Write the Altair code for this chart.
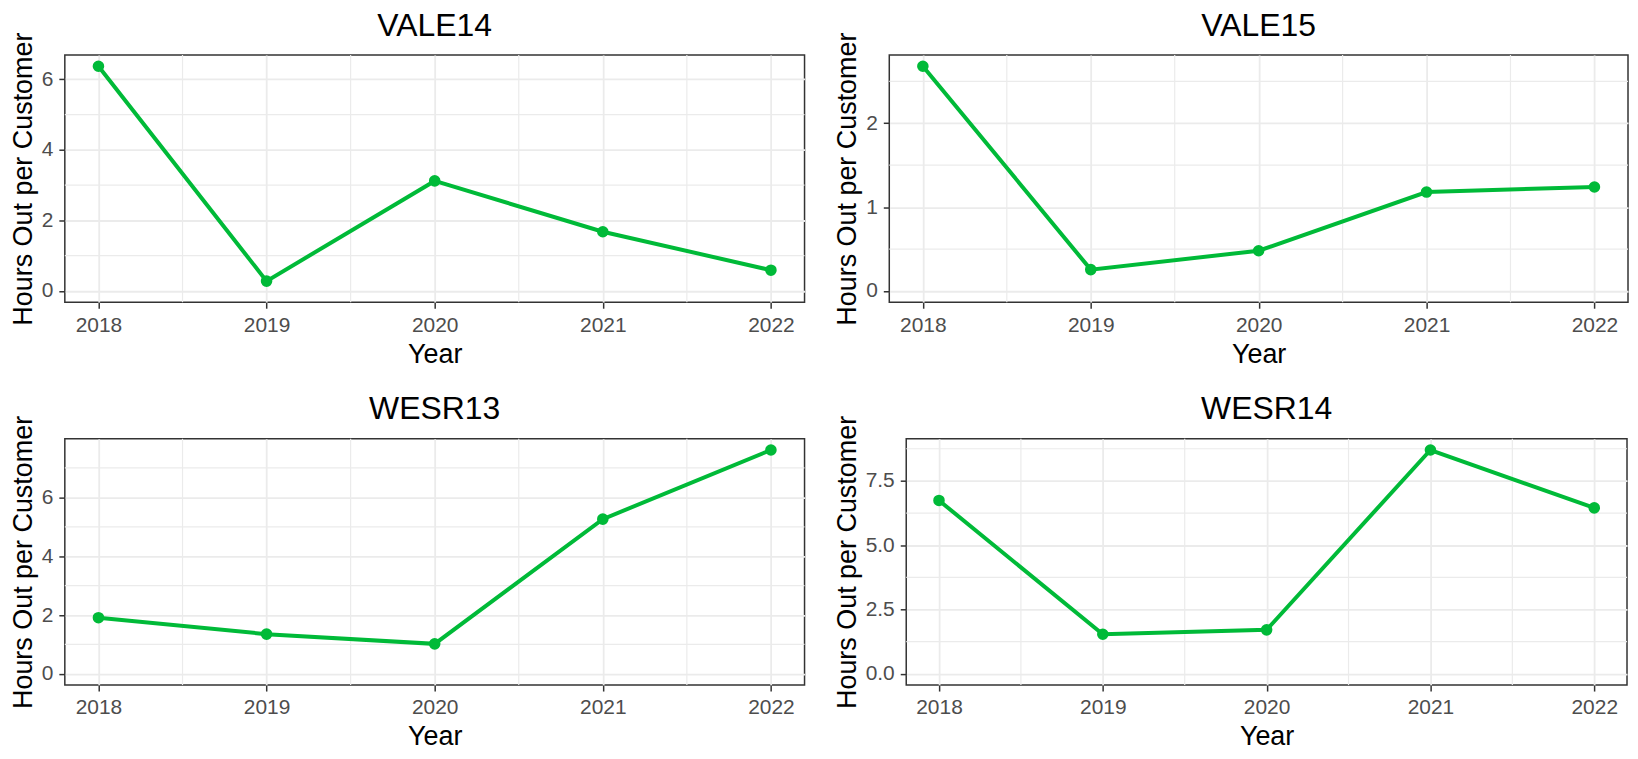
import altair as alt
import pandas as pd

# ---- data ----
years = [2018, 2019, 2020, 2021, 2022]
x_minor = [2018.5, 2019.5, 2020.5, 2021.5]

feeders = ["VALE14", "VALE15", "WESR13", "WESR14"]
vale14 = [6.37, 0.28, 3.12, 1.68, 0.59]
vale15 = [2.68, 0.255, 0.48, 1.18, 1.24]
wesr13 = [1.91, 1.35, 1.02, 5.26, 7.61]
wesr14 = [6.74, 1.54, 1.71, 8.70, 6.45]

vale14_ticks = [0, 2, 4, 6]
vale15_ticks = [0, 1, 2]
wesr13_ticks = [0, 2, 4, 6, 8]
wesr14_ticks = [0, 2.5, 5, 7.5]

vale14_minor = [1, 3, 5]
vale15_minor = [0.5, 1.5, 2.5]
wesr13_minor = [1, 3, 5, 7]
wesr14_minor = [1.25, 3.75, 6.25, 8.75]

FONT = "Liberation Sans"
GREEN = "#00BA38"
GRID = "#EBEBEB"
DARK = "#333333"


def panel(name, values, ticks, minor, fmt, width, height):
    ymax = max(values)
    xs = alt.Scale(domain=[2017.8, 2022.2], nice=False, zero=False)
    ys = alt.Scale(domain=[-0.05 * ymax, 1.05 * ymax], nice=False, zero=False)
    df = pd.DataFrame({"Year": years, "Hours": values})

    x_axis = alt.Axis(values=years, format="d", title="Year", grid=True)
    y_axis = alt.Axis(values=ticks, format=fmt, title="Hours Out per Customer", grid=True)

    minor_x = alt.Chart(pd.DataFrame({"mx": x_minor})).mark_rule(
        color=GRID, strokeWidth=1.2
    ).encode(x=alt.X("mx:Q", scale=xs, axis=x_axis))
    minor_y = alt.Chart(pd.DataFrame({"my": minor})).mark_rule(
        color=GRID, strokeWidth=1.2
    ).encode(y=alt.Y("my:Q", scale=ys, axis=y_axis))

    base = alt.Chart(df).encode(
        x=alt.X("Year:Q", scale=xs, axis=x_axis),
        y=alt.Y("Hours:Q", scale=ys, axis=y_axis),
    )
    line = base.mark_line(color=GREEN, strokeWidth=4)
    pts = base.mark_circle(color=GREEN, size=135, opacity=1)

    return alt.layer(minor_x, minor_y, line, pts).properties(
        width=width,
        height=height,
        title=alt.TitleParams(
            name, fontSize=32, fontWeight="normal", font=FONT, color="black",
            anchor="middle", frame="group", offset=-11,
        ),
    )


p1 = panel(feeders[0], vale14, vale14_ticks, vale14_minor, "d", 742, 248)
p2 = panel(feeders[1], vale15, vale15_ticks, vale15_minor, "d", 741, 248)
p3 = panel(feeders[2], wesr13, wesr13_ticks, wesr13_minor, "d", 742, 247)
p4 = panel(feeders[3], wesr14, wesr14_ticks, wesr14_minor, ".1f", 723, 247)

chart = alt.vconcat(
    alt.hconcat(p1, p2, spacing=26),
    alt.hconcat(p3, p4, spacing=26),
    spacing=24,
).properties(padding=0).configure_view(
    stroke=DARK, strokeWidth=1.5
).configure_axis(
    labelFont=FONT, labelFontSize=21, labelColor="#4D4D4D",
    titleFont=FONT, titleFontSize=27, titleFontWeight="normal", titleColor="black",
    tickColor=DARK, tickWidth=1.5, tickSize=6, labelPadding=6,
    domain=False, gridColor=GRID, gridWidth=1.8,
).configure_axisY(titlePadding=4).configure_axisX(titlePadding=6)

chart.save("out.html", embed_options={"renderer": "svg", "actions": False})
